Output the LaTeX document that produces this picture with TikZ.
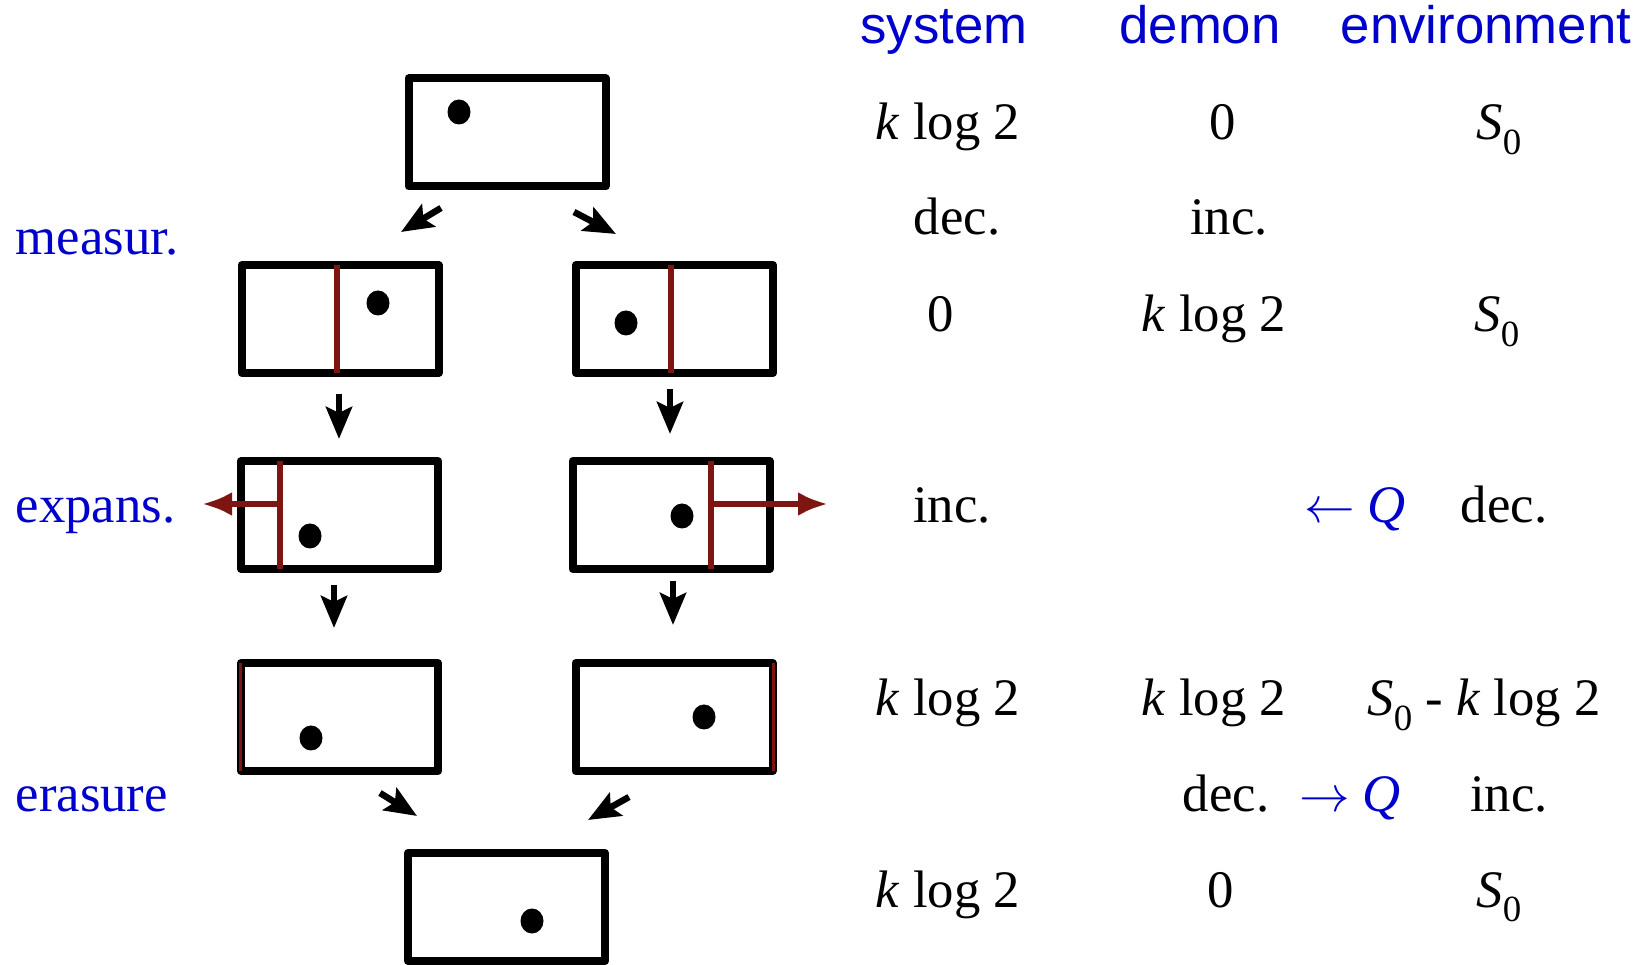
\documentclass[tikz,border=0pt]{standalone}
\usepackage{fontspec}
\setmainfont{Liberation Serif}
\setsansfont{Liberation Sans}
\usetikzlibrary{arrows.meta,positioning,calc}
\definecolor{labelblue}{RGB}{0,0,205}
\definecolor{wallred}{RGB}{125,22,18}
\newcommand{\klog}{\textit{k} log 2}
\newcommand{\Szero}{\textit{S}\raisebox{-4pt}{\fontsize{10.5}{11}\selectfont 0}}
\tikzset{
 box/.style={draw,line width=0.8mm,line join=round,minimum width=1.97cm,
             minimum height=1.08cm,inner sep=0pt,outer sep=0pt},
 ball/.style={ellipse,fill,inner sep=0pt,minimum width=2.3mm,minimum height=2.5mm},
 wall/.style={wallred,line width=0.6mm},
 push/.style={wallred,line width=0.6mm,-{Latex[length=3mm,width=2.4mm]}},
 arrow/.style={-{Stealth[length=3.2mm,width=2.6mm,inset=0.6mm]},line width=0.65mm},
 head/.style={font=\sffamily\fontsize{15}{18}\selectfont,text=labelblue,
             anchor=base,inner sep=0pt},
 val/.style={font=\fontsize{15}{18}\selectfont,anchor=base,inner sep=0pt},
 stage/.style={font=\fontsize{15}{18}\selectfont,text=labelblue,
             anchor=base west,inner sep=0pt}
}
\usetikzlibrary{shapes.geometric}

\begin{document}
\begin{tikzpicture}
\useasboundingbox (0,0) rectangle (16.51,-9.65);
% boxes
\node[box] (top) at (5.07,-1.325) {};
\node[box] (L2) at (3.40,-3.19) {};
\node[box] (R2) at (6.745,-3.19) {};
\node[box] (L3) at (3.395,-5.15) {};
\node[box] (R3) at (6.71,-5.15) {};
\node[box] (L4) at (3.395,-7.17) {};
\node[box] (R4) at (6.74,-7.17) {};
\node[box] (bot) at (5.065,-9.07) {};
% molecule
\node[ball] (b0) at (4.59,-1.12) {};
\node[ball] (b1) at (3.78,-3.03) {};
\node[ball] (b2) at (6.26,-3.23) {};
\node[ball] (b3) at (3.10,-5.36) {};
\node[ball] (b4) at (6.82,-5.16) {};
\node[ball] (b5) at (3.11,-7.38) {};
\node[ball] (b6) at (7.04,-7.17) {};
\node[ball] (b7) at (5.32,-9.21) {};
% partitions
\draw[wall] (3.37,0 |- L2.north) -- (3.37,0 |- L2.south);
\draw[wall] (6.71,0 |- R2.north) -- (6.71,0 |- R2.south);
\draw[wall] (2.795,0 |- L3.north) -- (2.795,0 |- L3.south);
\draw[wall] (7.11,0 |- R3.north) -- (7.11,0 |- R3.south);
\draw[push] (2.795,-5.04) -- (2.02,-5.04);
\draw[push] (7.11,-5.04) -- (8.28,-5.04);
\draw[wallred,line width=0.3mm] (2.40,0 |- L4.north) -- (2.40,0 |- L4.south);
\draw[wallred,line width=0.3mm] (7.73,0 |- R4.north) -- (7.73,0 |- R4.south);
% steps
\draw[arrow] ([xshift=-0.66cm,yshift=-0.215cm]top.south) -- ++(-0.40,-0.24);
\draw[arrow] ([xshift=0.67cm,yshift=-0.255cm]top.south) -- ++(0.42,-0.22);
\draw[arrow] ([xshift=-0.01cm,yshift=-0.21cm]L2.south) -- ++(0,-0.45);
\draw[arrow] ([xshift=-0.045cm,yshift=-0.16cm]R2.south) -- ++(0,-0.45);
\draw[arrow] ([xshift=-0.055cm,yshift=-0.16cm]L3.south) -- ++(0,-0.43);
\draw[arrow] ([xshift=0.02cm,yshift=-0.12cm]R3.south) -- ++(0,-0.44);
\draw[arrow] ([xshift=0.405cm,yshift=-0.22cm]L4.south) -- ++(0.37,-0.23);
\draw[arrow] ([xshift=-0.45cm,yshift=-0.26cm]R4.south) -- ++(-0.41,-0.23);
% stage labels
\node[stage] (measur) at (0.15,-2.55) {measur.};
\node[stage] (expans) at (0.15,-5.23) {expans.};
\node[stage] (erasure) at (0.15,-8.12) {erasure};
% entropy table
\node[head] (hsys) at (9.44,-0.44) {system};
\node[head] (hdem) at (12.00,-0.44) {demon};
\node[head] (henv) at (14.86,-0.44) {environment};
\node[val] (s1) at (9.48,-1.40) {\klog};
\node[val] (d1) at (12.23,-1.40) {0};
\node[val] (e1) at (14.99,-1.40) {\Szero};
\node[val] (s2) at (9.57,-2.35) {dec.};
\node[val] (d2) at (12.29,-2.35) {inc.};
\node[val] (s3) at (9.41,-3.32) {0};
\node[val] (d3) at (12.14,-3.32) {\klog};
\node[val] (e3) at (14.97,-3.32) {\Szero};
\node[val] (s4) at (9.52,-5.23) {inc.};
\node[val,text=labelblue] (q4) at (13.55,-5.23) {$\leftarrow$ \textit{Q}};
\node[val] (e4) at (15.04,-5.23) {dec.};
\node[val] (s5) at (9.48,-7.16) {\klog};
\node[val] (d5) at (12.14,-7.16) {\klog};
\node[val] (e5) at (14.84,-7.16) {\Szero{} - \klog};
\node[val] (d6) at (12.26,-8.12) {dec.};
\node[val,text=labelblue] (q6) at (13.50,-8.12) {$\rightarrow$ \textit{Q}};
\node[val] (e6) at (15.09,-8.12) {inc.};
\node[val] (s7) at (9.48,-9.07) {\klog};
\node[val] (d7) at (12.21,-9.07) {0};
\node[val] (e7) at (14.99,-9.07) {\Szero};
\end{tikzpicture}
\end{document}
